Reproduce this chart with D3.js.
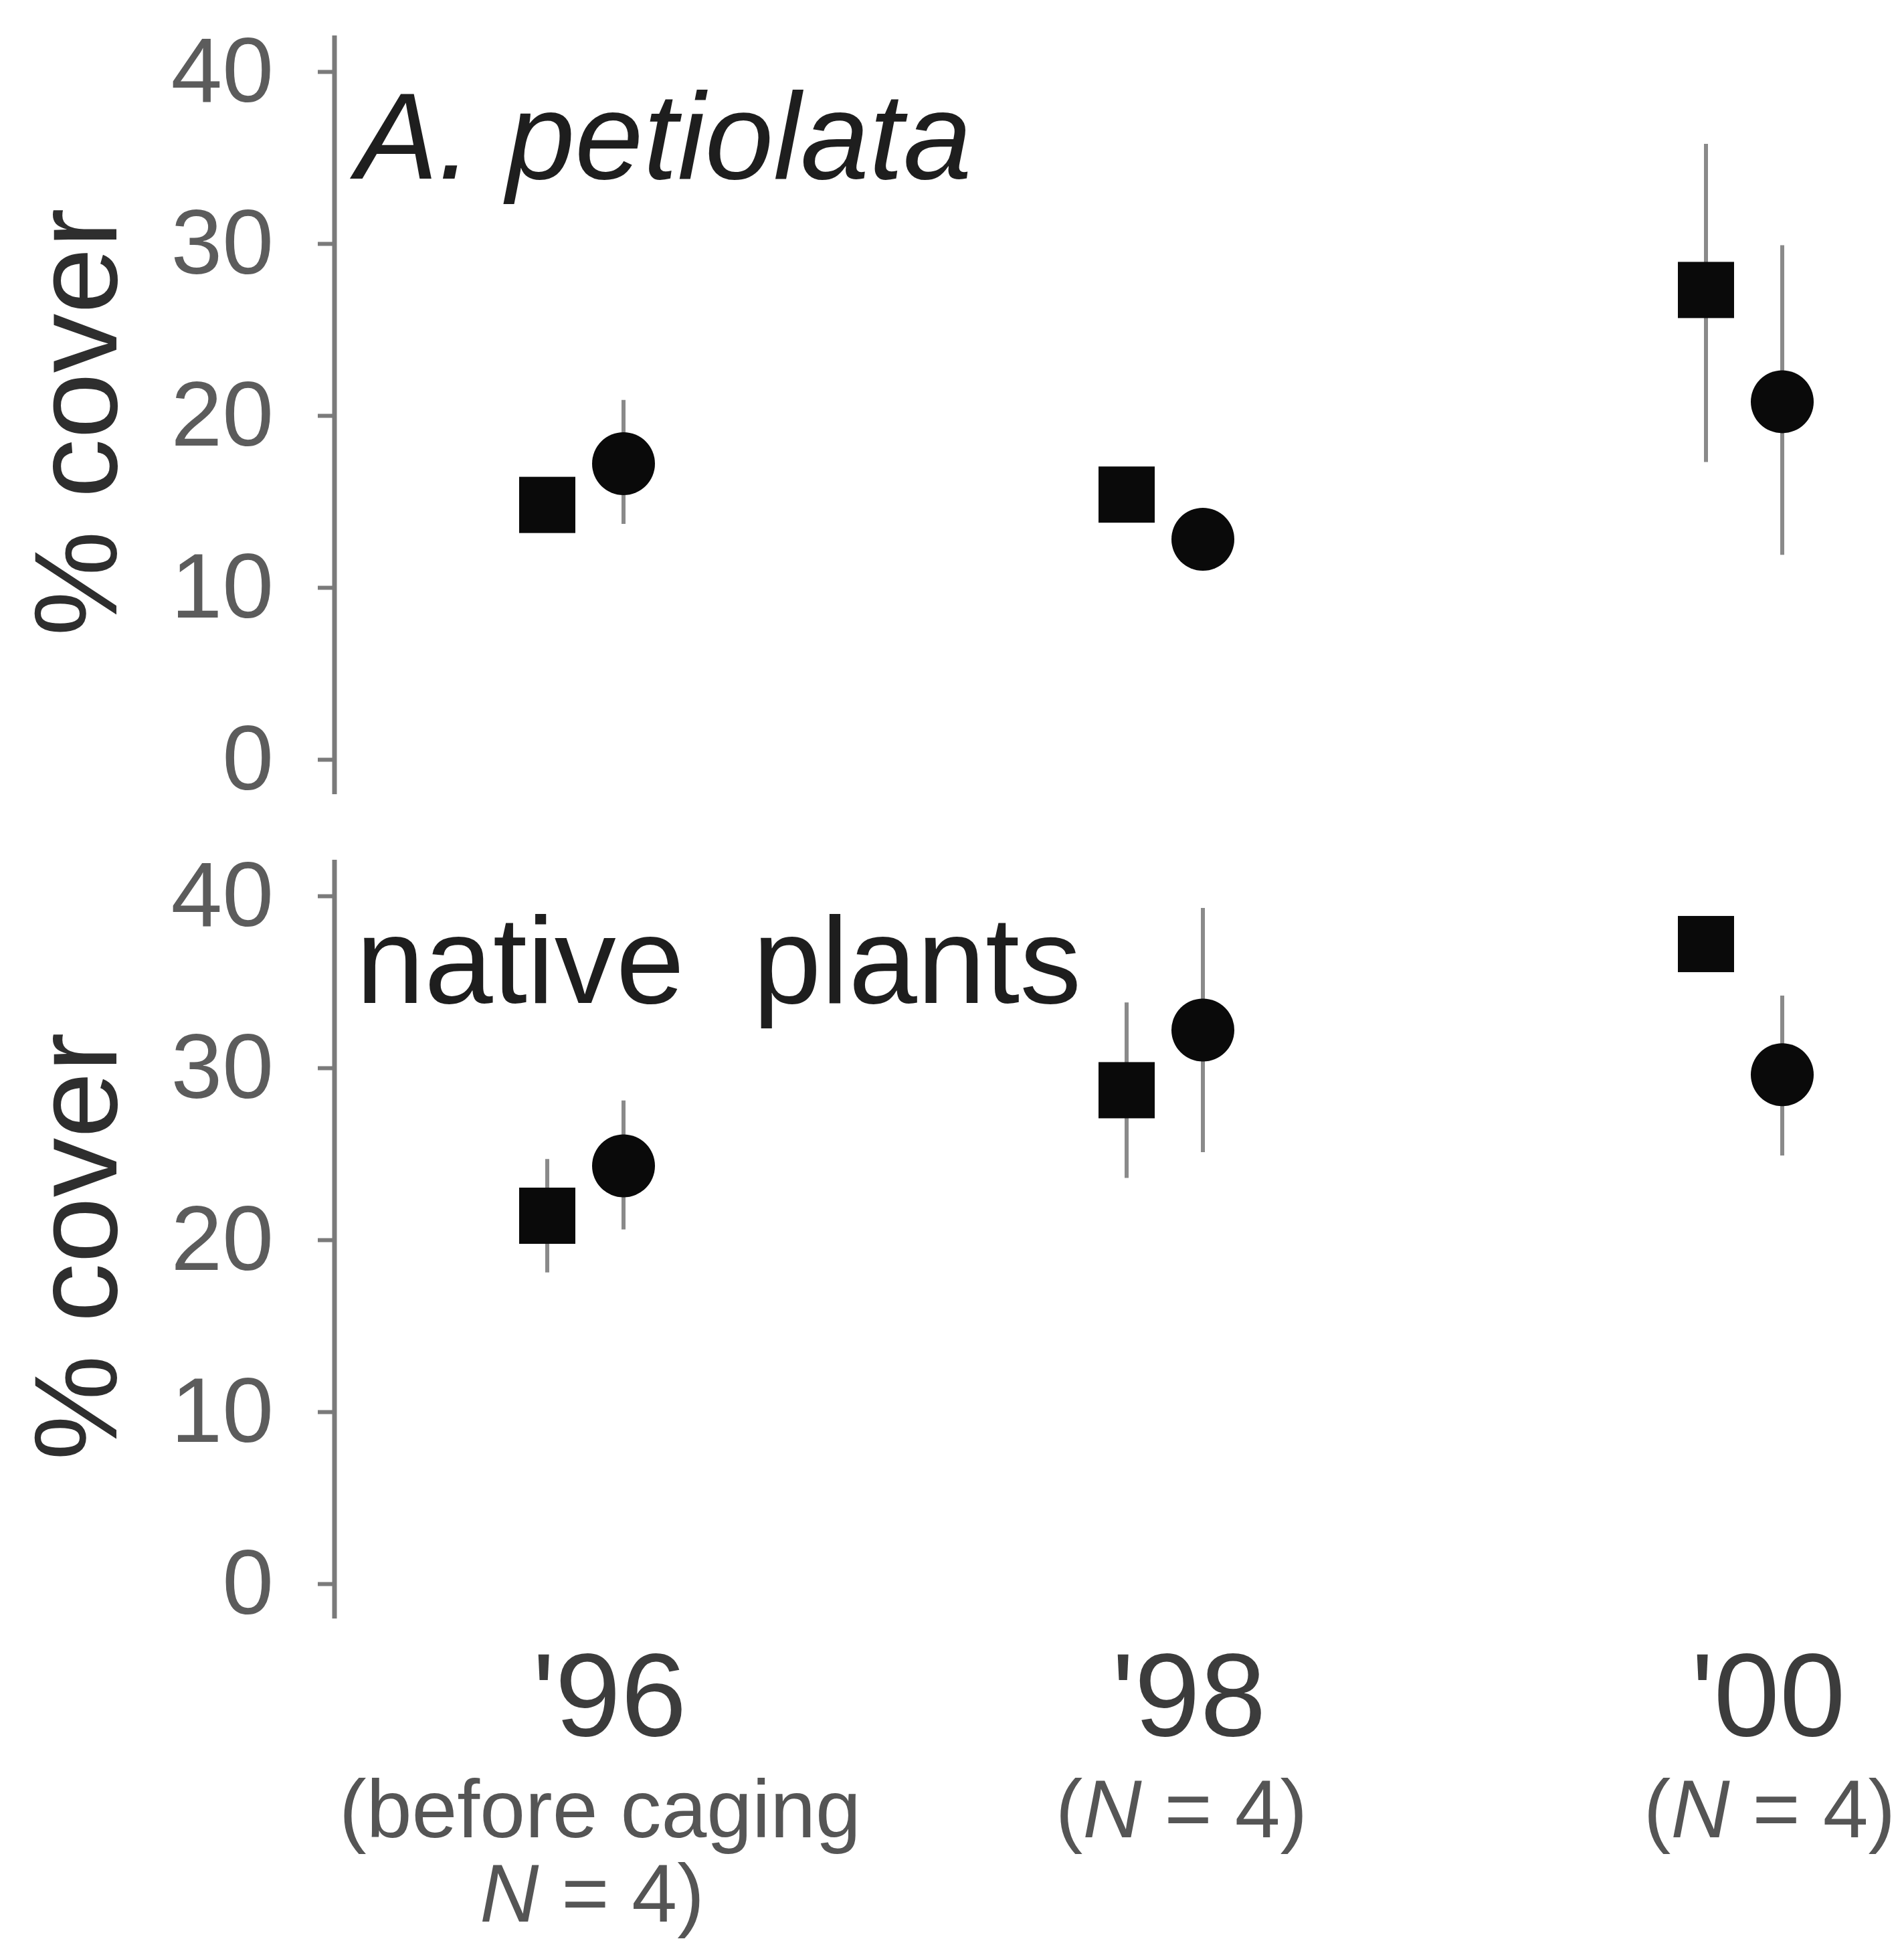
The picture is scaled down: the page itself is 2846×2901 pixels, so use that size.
<!DOCTYPE html>
<html>
<head>
<meta charset="utf-8">
<script src="https://cdn.jsdelivr.net/npm/d3@7"></script>
<style>
  body { margin: 0; background: #fff; }
  text { font-family: "Liberation Sans", Arial, sans-serif; }
</style>
</head>
<body>
<div id="chart"></div>
<script>
/***********************************************/
//                  DATA                       //
/***********************************************/

const years = ["'96", "'98", "'00"];
const markers = ["square", "circle"];
const yTicks = [0, 10, 20, 30, 40];
const subLabels = [["(before caging", "N = 4)"], ["(N = 4)"], ["(N = 4)"]];

// A. petiolata cover
const petSquare   = [14.8, 15.4, 27.3];
const petSquareLo = [14.0, 14.6, 17.3];
const petSquareHi = [15.6, 16.2, 35.8];
const petCircle   = [17.2, 12.8, 20.8];
const petCircleLo = [13.7, 12.0, 11.9];
const petCircleHi = [20.9, 13.6, 29.9];

// native plants cover
const natSquare   = [21.4, 28.7, 37.2];
const natSquareLo = [18.1, 23.6, 36.4];
const natSquareHi = [24.7, 33.8, 38.0];
const natCircle   = [24.3, 32.2, 29.6];
const natCircleLo = [20.6, 25.1, 24.9];
const natCircleHi = [28.1, 39.3, 34.2];

/***********************************************/
//                  LAYOUT                     //
/***********************************************/

const width = 2846,
    height = 2901,
    axisX = 500;

const svg = d3.select("#chart")
  .append("svg")
    .attr("width", width)
    .attr("height", height);

svg.append("rect")
    .attr("width", width)
    .attr("height", height)
    .attr("fill", "#fff");

const x = d3.scalePoint()
    .domain(years)
    .range([875, 2607]);

const dx = d3.scalePoint()
    .domain(markers)
    .range([-57, 57]);

const panels = [
  { title: "A. petiolata", italic: true, top: 107, bottom: 1135,
    sq: petSquare, sqLo: petSquareLo, sqHi: petSquareHi,
    ci: petCircle, ciLo: petCircleLo, ciHi: petCircleHi },
  { title: "native  plants", italic: false, top: 1339, bottom: 2367,
    sq: natSquare, sqLo: natSquareLo, sqHi: natSquareHi,
    ci: natCircle, ciLo: natCircleLo, ciHi: natCircleHi }
];

function drawPanel(p) {
    const y = d3.scaleLinear().domain([0, 40]).range([p.bottom, p.top]);
    const g = svg.append("g");

    // axis
    const axis = g.append("g")
        .attr("transform", `translate(${axisX},0)`)
        .call(d3.axisLeft(y).tickValues(yTicks).tickSize(25).tickPadding(66).tickSizeOuter(0));
    axis.select(".domain").remove();
    axis.selectAll(".tick line").attr("stroke", "#7a7a7a").attr("stroke-width", 6);
    axis.selectAll(".tick text")
        .attr("fill", "#5c5c5c")
        .style("font-size", "138px")
        .style("font-family", "'Liberation Sans', Arial, sans-serif");

    g.append("line")
        .attr("x1", axisX).attr("x2", axisX)
        .attr("y1", y(40) - 54)
        .attr("y2", y(0) + 52)
        .attr("stroke", "#7a7a7a")
        .attr("stroke-width", 7);

    // y label
    g.append("text")
        .attr("transform", `translate(174, ${(y(0) + y(40)) / 2 + 10}) rotate(-90)`)
        .attr("text-anchor", "middle")
        .attr("fill", "#2e2e2e")
        .style("font-size", "177px")
        .text("% cover");

    // panel title
    g.append("text")
        .attr("x", 532)
        .attr("y", y(40) + 160)
        .attr("fill", "#1e1e1e")
        .style("font-size", "184px")
        .style("font-style", p.italic ? "italic" : "normal")
        .style("white-space", "pre")
        .text(p.title);

    const rows = years.map((yr, i) => ({ yr: yr,
        sq: p.sq[i], sqLo: p.sqLo[i], sqHi: p.sqHi[i],
        ci: p.ci[i], ciLo: p.ciLo[i], ciHi: p.ciHi[i] }));

    // error bars
    g.selectAll(".errSq")
      .data(rows)
      .join("line")
        .attr("x1", d => x(d.yr) + dx("square"))
        .attr("x2", d => x(d.yr) + dx("square"))
        .attr("y1", d => y(d.sqHi))
        .attr("y2", d => y(d.sqLo))
        .attr("stroke", "#8a8a8a")
        .attr("stroke-width", 6);

    g.selectAll(".errCi")
      .data(rows)
      .join("line")
        .attr("x1", d => x(d.yr) + dx("circle"))
        .attr("x2", d => x(d.yr) + dx("circle"))
        .attr("y1", d => y(d.ciHi))
        .attr("y2", d => y(d.ciLo))
        .attr("stroke", "#8a8a8a")
        .attr("stroke-width", 6);

    // markers
    const side = 84;
    g.selectAll(".sq")
      .data(rows)
      .join("rect")
        .attr("x", d => x(d.yr) + dx("square") - side / 2)
        .attr("y", d => y(d.sq) - side / 2)
        .attr("width", side)
        .attr("height", side)
        .attr("fill", "#0a0a0a");

    g.selectAll(".ci")
      .data(rows)
      .join("circle")
        .attr("cx", d => x(d.yr) + dx("circle"))
        .attr("cy", d => y(d.ci))
        .attr("r", 47)
        .attr("fill", "#0a0a0a");
}

panels.forEach(drawPanel);

/***********************************************/
//               X LABELS                      //
/***********************************************/

svg.selectAll(".year")
  .data(years)
  .join("text")
    .attr("x", d => x(d) + 36)
    .attr("y", 2594)
    .attr("text-anchor", "middle")
    .attr("fill", "#3c3c3c")
    .style("font-size", "177px")
    .text(d => d);

// the last sample-size label sits a bit further right in the original
const subShift = [22, 25, 38];

years.forEach((yr, i) => {
    subLabels[i].forEach((line, j) => {
        const t = svg.append("text")
            .attr("x", x(yr) + subShift[i] - (j > 0 ? 12 : 0))
            .attr("y", 2746 + j * 126)
            .attr("text-anchor", "middle")
            .attr("fill", "#555")
            .style("font-size", "122px")
            .style("white-space", "pre");
        // italic N
        const parts = line.split("N");
        parts.forEach((part, k) => {
            if (k > 0) t.append("tspan").style("font-style", "italic").text("N");
            if (part) t.append("tspan").text(part);
        });
    });
});
</script>
</body>
</html>
